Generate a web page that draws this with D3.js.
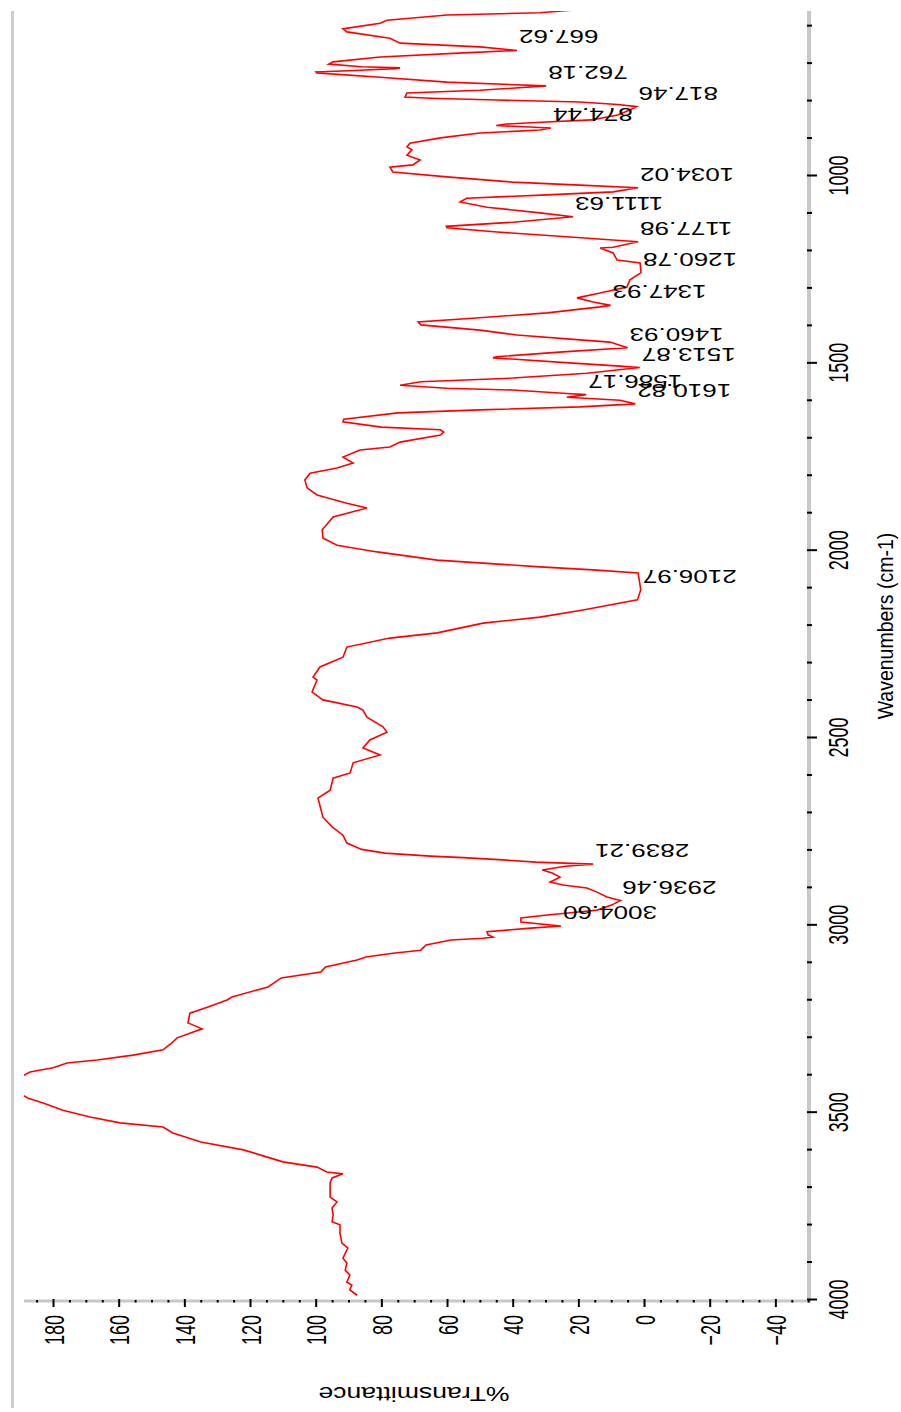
<!DOCTYPE html>
<html>
<head>
<meta charset="utf-8">
<script src="https://cdn.jsdelivr.net/npm/d3@7"></script>
<style>
  html, body { margin: 0; padding: 0; background: #fff; }
  svg { display: block; }
  text { font-family: "Liberation Sans", Arial, sans-serif; fill: #000; }
</style>
</head>
<body>
<svg id="chart" width="901" height="1412"></svg>
<script>
// FTIR spectrum: wavenumber (cm-1) and % transmittance
const wavenumbers = [
  3990, 3976, 3963, 3955, 3936, 3923, 3904, 3891, 3864, 3851, 3824, 3802, 3794, 3776, 3757, 3741, 3728, 3690, 3677, 3666,
  3661, 3648, 3634, 3618, 3602, 3581, 3557, 3541, 3530, 3514, 3496, 3477, 3464, 3452, 3440, 3415, 3403, 3394, 3383, 3370,
  3362, 3349, 3335, 3318, 3303, 3279, 3263, 3237, 3221, 3202, 3194, 3167, 3143, 3127, 3114, 3095, 3087, 3077, 3069, 3055,
  3042, 3037, 3034, 3028, 3020, 3010, 3004.60, 2994, 2983, 2975, 2967, 2962, 2948, 2936.46, 2927, 2914, 2903, 2895, 2887, 2874,
  2863, 2855, 2845, 2839.21, 2834, 2828, 2822, 2818, 2810, 2800, 2783, 2762, 2740, 2714, 2663, 2642, 2610, 2596, 2569, 2548,
  2529, 2508, 2487, 2473, 2447, 2428, 2420, 2401, 2380, 2348, 2340, 2313, 2287, 2260, 2236, 2222, 2196, 2180, 2161, 2134,
  2106.97, 2062, 2054, 2046, 2036, 2028, 2006, 1988, 1969, 1947, 1913, 1889, 1876, 1854, 1835, 1814, 1796, 1782, 1769, 1753,
  1734, 1726, 1713, 1694, 1686, 1680, 1673, 1659, 1652, 1635, 1627, 1619, 1610.82, 1601, 1593, 1586.17, 1583, 1574, 1569, 1561,
  1552, 1542, 1529, 1513.87, 1510, 1502, 1488, 1485, 1472, 1460.93, 1446, 1440, 1427, 1414, 1400, 1392, 1381, 1368, 1352, 1347.93,
  1339, 1328, 1315, 1299, 1280, 1260.78, 1235, 1227, 1208, 1195, 1193, 1177.98, 1164, 1152, 1141, 1137, 1126, 1111.63, 1101, 1086,
  1072, 1062, 1053, 1045, 1034.02, 1027, 1019, 1005, 992, 979, 973, 960, 947, 933, 925, 915, 901, 888, 880, 874.44,
  868, 864, 860, 853, 840, 825, 817.46, 812, 805, 800, 795, 792, 781, 774, 762.18, 752, 739, 732, 728, 725,
  721, 716, 714, 711, 704, 698, 685, 674, 667.62, 658, 648, 635, 618, 610, 595, 587, 573, 567, 560
];
const transmittance = [
  87.4, 89.6, 89.0, 90.5, 89.6, 91.0, 90.5, 91.7, 90.2, 92.0, 92.6, 92.6, 95.0, 94.7, 95.0, 93.5, 95.6, 95.6, 95.0, 91.7,
  96.6, 99.6, 110, 116, 122, 135, 143.5, 146.5, 159.6, 168.7, 177, 183, 187.6, 190, 193, 193, 189, 187, 180, 175.7,
  166.6, 155.6, 146.5, 144, 142.2, 134.6, 138.9, 138.3, 133, 127, 125.5, 114.5, 110.5, 98.4, 97, 87.4, 84.7, 76.5, 68, 66.4,
  58.8, 49, 46, 47.5, 47.8, 34.5, 25.3, 37.5, 37.5, 29.5, 20, 14.3, 9.7, 7.2, 11.3, 14.3, 17.4, 24.7, 28.6, 25.6,
  28, 31, 24, 15.5, 33, 43, 55, 65, 79, 86, 90.5, 91.7, 95, 97.8, 99.3, 95.6, 94.7, 89.5, 88.6, 80.4,
  85.6, 83.5, 78.3, 79.5, 84.4, 85.6, 87.4, 97.8, 101.1, 99.6, 100.8, 98.7, 91.7, 90.5, 77.4, 63, 49, 31.7, 18.6, 2,
  1, 1.8, 15.5, 31.7, 49, 63, 81.3, 93.5, 97.8, 98, 94.7, 84.4, 90.5, 99.6, 102.6, 103.3, 101.7, 93.5, 88.6, 91.7,
  86.5, 77.4, 74.3, 62, 61, 62, 80, 91.7, 91.4, 75, 50, 19.5, 2.7, 7.3, 23.5, 17.6, 23.5, 40, 60, 74.3,
  68, 40, 17.4, 1.3, 7.3, 21.6, 46, 45, 24.7, 5, 10.4, 19.5, 38.7, 50, 68, 68.8, 50, 29.5, 13.4, 10.2,
  15.5, 20.4, 13.4, 5.2, 4.3, 0.9, 1.2, 8.2, 9.4, 13.4, 9.4, 1.8, 24.7, 44.8, 60, 60.2, 40, 21.6, 31.7, 47.8,
  56, 54, 29.5, 9.4, 1.8, 19.5, 40, 60, 76.5, 77.4, 70.4, 68.2, 72.2, 70.7, 72.2, 71.3, 62, 50, 31.7, 28.3,
  45, 42, 33, 16, 8, 4, 2.3, 8, 19.5, 44.8, 65, 72.8, 72.2, 50, 29.8, 60, 80.4, 92, 99.6, 99.9,
  88, 76, 74.3, 86, 96, 94.7, 80.4, 55, 38.7, 50, 74.3, 77.4, 90.5, 91.7, 80.4, 78.3, 60, 31.7, 22
];

// Labelled absorption bands
const peakWavenumbers = [667.62, 762.18, 817.46, 874.44, 1034.02, 1111.63, 1177.98, 1260.78, 1347.93,
  1460.93, 1513.87, 1586.17, 1610.82, 2106.97, 2839.21, 2936.46, 3004.60];
const peakTransmittance = [38.7, 29.8, 2.3, 28.3, 1.8, 21.6, 1.8, 0.9, 10.2,
  5, 1.3, 17.6, 2.7, 1, 15.5, 7.2, 25.3];

// Axis ticks
const wavenumberTicks = [4000, 3500, 3000, 2500, 2000, 1500, 1000];
const transmittanceTicks = [180, 160, 140, 120, 100, 80, 60, 40, 20, 0, -20, -40];

const svg = d3.select("#chart");

// Spectrum plotted with wavenumber running down the page and %T running right-to-left
const y = d3.scaleLinear().domain([4000, 400]).range([1299, -49.8]);
const x = d3.scaleLinear().domain([-50, 188.5]).range([808.2, 25.1]);

const defs = svg.append("defs");
defs.append("clipPath").attr("id", "plotClip")
  .append("rect").attr("x", 24).attr("y", 11).attr("width", 786).attr("height", 1290);
defs.append("clipPath").attr("id", "pageClip")
  .append("rect").attr("x", 0).attr("y", 11).attr("width", 901).attr("height", 1401);

// Frame edge on the left
svg.append("line")
  .attr("x1", 12.5).attr("x2", 12.5).attr("y1", 11).attr("y2", 1408)
  .attr("stroke", "#cdcdcd").attr("stroke-width", 3);

const axes = svg.append("g").attr("clip-path", "url(#pageClip)");

// Axis base lines
axes.append("line")
  .attr("x1", 809).attr("x2", 809).attr("y1", 0).attr("y2", 1302.5)
  .attr("stroke", "#c8c8c8").attr("stroke-width", 4);
axes.append("line")
  .attr("x1", 24).attr("x2", 811).attr("y1", 1301).attr("y2", 1301)
  .attr("stroke", "#c8c8c8").attr("stroke-width", 3);

// Wavenumber axis (right)
const wnMinor = d3.range(4000, 550, -100).filter(v => !wavenumberTicks.includes(v));
axes.append("g").attr("transform", "translate(807,0)")
  .call(d3.axisRight(y).tickValues(wnMinor).tickSize(5).tickFormat(""))
  .call(g => g.select(".domain").remove())
  .call(g => g.selectAll(".tick line").attr("stroke", "#000").attr("stroke-width", 2));

axes.append("g").attr("transform", "translate(807,0)")
  .call(d3.axisRight(y).tickValues(wavenumberTicks).tickSize(10).tickFormat(d3.format("d")))
  .call(g => g.select(".domain").remove())
  .call(g => g.selectAll(".tick line").attr("stroke", "#000").attr("stroke-width", 2))
  .call(g => g.selectAll(".tick text")
    .attr("x", null).attr("dy", "0.36em")
    .attr("text-anchor", "middle")
    .attr("font-size", 18)
    .attr("font-family", null)
    .attr("fill", "#000")
    .attr("transform", "translate(31,0) scale(1.55,1) rotate(-90)"));

// %Transmittance axis (bottom)
const tMinor = d3.range(-50, 189, 5).filter(v => !transmittanceTicks.includes(v));
axes.append("g").attr("transform", "translate(0,1300)")
  .call(d3.axisBottom(x).tickValues(tMinor).tickSize(2.5).tickFormat(""))
  .call(g => g.select(".domain").remove())
  .call(g => g.selectAll(".tick line").attr("stroke", "#000").attr("stroke-width", 2));

axes.append("g").attr("transform", "translate(0,1299)")
  .call(d3.axisBottom(x).tickValues(transmittanceTicks).tickSize(8).tickFormat(d3.format("d")))
  .call(g => g.select(".domain").remove())
  .call(g => g.selectAll(".tick line").attr("stroke", "#000").attr("stroke-width", 2))
  .call(g => g.selectAll(".tick text")
    .attr("y", null).attr("dy", "0.36em")
    .attr("text-anchor", "end")
    .attr("font-size", 18)
    .attr("font-family", null)
    .attr("fill", "#000")
    .attr("transform", "translate(0,16) scale(1.55,1) rotate(-90)"));

// Axis titles
svg.append("text")
  .attr("text-anchor", "middle").attr("font-size", 19.5)
  .attr("transform", "translate(893,626) scale(1.1,1) rotate(-90)")
  .text("Wavenumbers (cm-1)");

svg.append("text")
  .attr("text-anchor", "middle").attr("font-size", 20)
  .attr("transform", "translate(414,1387) scale(1.33,1) rotate(180)")
  .text("%Transmittance");

// Spectrum trace
const spectrum = wavenumbers.map((w, i) => ({ w, t: transmittance[i] }));
svg.append("g").attr("clip-path", "url(#plotClip)")
  .append("path")
  .datum(spectrum)
  .attr("fill", "none")
  .attr("stroke", "#ff0000")
  .attr("stroke-width", 1.6)
  .attr("stroke-linejoin", "miter")
  .attr("d", d3.line().x(d => x(d.t)).y(d => y(d.w)));

// Peak annotations
const fmt = d3.format(".2f");
const peaks = peakWavenumbers.map((w, i) => ({ w, t: peakTransmittance[i] }));
svg.append("g").selectAll("text")
  .data(peaks)
  .join("text")
  .attr("text-anchor", "end")
  .attr("font-size", 19)
  .attr("transform", d => `translate(${x(d.t) + 2},${y(d.w) - 20}) scale(1.37,1) rotate(180)`)
  .text(d => fmt(d.w));
</script>
</body>
</html>
